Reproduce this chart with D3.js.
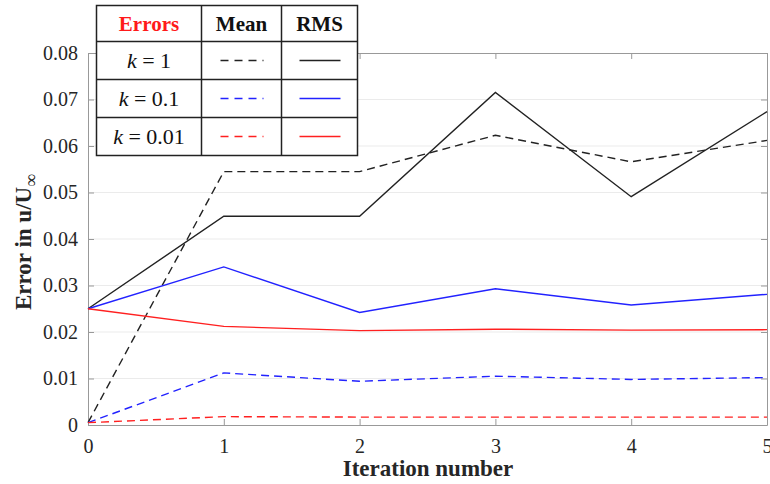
<!DOCTYPE html>
<html lang="en">
<head>
<meta charset="UTF-8">
<title>Error vs iteration</title>
<script src="https://d3js.org/d3.v7.min.js"></script>
<style>
  body { margin: 0; background: #fff; }
  .lbl { font-family: "Liberation Serif", serif; font-weight: bold; fill: #262626; }
</style>
</head>
<body>
<script>
  // iterations and error values
  var iterations = [0, 1, 2, 3, 4, 5];
  var yTicks = [0, 0.01, 0.02, 0.03, 0.04, 0.05, 0.06, 0.07, 0.08];

  var meanK1    = [0.0005, 0.0545, 0.0545, 0.0623, 0.0566, 0.0612];
  var rmsK1     = [0.025, 0.0449, 0.0449, 0.0715, 0.0491, 0.0674];
  var meanK01   = [0.0005, 0.0112, 0.0094, 0.0105, 0.0098, 0.0102];
  var rmsK01    = [0.025, 0.0340, 0.0242, 0.0293, 0.0258, 0.0281];
  var meanK001  = [0.0005, 0.0018, 0.0017, 0.0017, 0.0017, 0.0017];
  var rmsK001   = [0.025, 0.0212, 0.0203, 0.0206, 0.0204, 0.0205];

  var seriesNames = ["k = 1", "k = 0.1", "k = 0.01"];
  var seriesColors = ["#222", "#2222ff", "#ff2020"];
  var meanSeries = [meanK1, meanK01, meanK001];
  var rmsSeries = [rmsK1, rmsK01, rmsK001];

  var W = 770, H = 484;
  var margin = {top: 53, right: 3, bottom: 59, left: 88};
  var width = W - margin.left - margin.right,
      height = H - margin.top - margin.bottom;

  var svg = d3.select("body").append("svg")
      .attr("width", W).attr("height", H);
  var g = svg.append("g")
      .attr("transform", "translate(" + margin.left + "," + margin.top + ")");

  var x = d3.scaleLinear().domain([0, 5]).range([0, width]);
  var y = d3.scaleLinear().domain([0, 0.08]).range([height, 0]);

  // horizontal grid
  g.append("g")
    .selectAll("line").data(yTicks.slice(1, -1)).join("line")
      .attr("x1", 0).attr("x2", width)
      .attr("y1", d => y(d)).attr("y2", d => y(d))
      .attr("stroke", "#ebebeb");

  // axes (box style with ticks on all sides)
  var fmtY = d => d === 0 ? "0" : d3.format(".2f")(d);
  function styleAxis(sel) {
    sel.select(".domain").attr("stroke", "#999");
    sel.selectAll(".tick line").attr("stroke", "#999");
    sel.selectAll(".tick text")
      .attr("font-family", "'Liberation Serif', serif")
      .attr("font-size", 20).attr("fill", "#262626");
  }
  g.append("g")
      .attr("transform", "translate(0," + height + ")")
      .call(d3.axisBottom(x).tickValues(iterations).tickFormat(d3.format("d"))
        .tickSizeInner(-6).tickSizeOuter(0).tickPadding(14))
      .call(styleAxis);
  g.append("g")
      .call(d3.axisTop(x).tickValues(iterations).tickSizeInner(-6).tickSizeOuter(0).tickFormat(""))
      .call(styleAxis);
  g.append("g")
      .call(d3.axisLeft(y).tickValues(yTicks).tickFormat(fmtY)
        .tickSizeInner(-6).tickSizeOuter(0).tickPadding(10))
      .call(styleAxis);
  g.append("g")
      .attr("transform", "translate(" + width + ",0)")
      .call(d3.axisRight(y).tickValues(yTicks).tickSizeInner(-6).tickSizeOuter(0).tickFormat(""))
      .call(styleAxis);

  var line = d3.line().x((d, i) => x(iterations[i])).y(d => y(d));

  meanSeries.forEach(function(s, i) {
    g.append("path").datum(s)
      .attr("fill", "none").attr("stroke", seriesColors[i])
      .attr("stroke-width", 1.4).attr("stroke-dasharray", "8,5")
      .attr("d", line);
  });
  rmsSeries.forEach(function(s, i) {
    g.append("path").datum(s)
      .attr("fill", "none").attr("stroke", seriesColors[i])
      .attr("stroke-width", 1.4)
      .attr("d", line);
  });

  // axis labels
  svg.append("text").attr("class", "lbl")
      .attr("x", 428).attr("y", 476).attr("text-anchor", "middle")
      .attr("font-size", 23).text("Iteration number");

  var yl = svg.append("text").attr("class", "lbl")
      .attr("transform", "translate(31,242) rotate(-90)")
      .attr("text-anchor", "middle").attr("font-size", 23);
  yl.append("tspan").text("Error in u/U");
  yl.append("tspan").attr("dy", 6).attr("font-size", 18).attr("font-weight", "normal").text("∞");

  // legend table
  var tbl = svg.append("g").attr("transform", "translate(96.5,5.5)");
  var colX = [0, 105, 185, 261];
  var rowY = [0, 36, 74, 112, 150];
  tbl.append("rect").attr("width", colX[3]).attr("height", rowY[4])
      .attr("fill", "#fff").attr("stroke", "#222").attr("stroke-width", 1.5);
  colX.slice(1, 3).forEach(c => tbl.append("line")
      .attr("x1", c).attr("x2", c).attr("y1", 0).attr("y2", rowY[4])
      .attr("stroke", "#222").attr("stroke-width", 1.5));
  rowY.slice(1, 4).forEach(r => tbl.append("line")
      .attr("x1", 0).attr("x2", colX[3]).attr("y1", r).attr("y2", r)
      .attr("stroke", "#222").attr("stroke-width", 1.5));

  var heads = ["Errors", "Mean", "RMS"];
  heads.forEach(function(h, i) {
    tbl.append("text").attr("class", "lbl")
      .attr("x", (colX[i] + colX[i + 1]) / 2).attr("y", 25)
      .attr("text-anchor", "middle").attr("font-size", 21)
      .style("fill", i === 0 ? "#ff1a1a" : "#111")
      .text(h);
  });

  seriesNames.forEach(function(name, i) {
    var cy = (rowY[i + 1] + rowY[i + 2]) / 2;
    var t = tbl.append("text")
      .attr("x", (colX[0] + colX[1]) / 2).attr("y", cy + 7)
      .attr("text-anchor", "middle")
      .attr("font-family", "'Liberation Serif', serif").attr("font-size", 22).attr("fill", "#111");
    t.append("tspan").attr("font-style", "italic").text("k");
    t.append("tspan").text(name.slice(1));
    tbl.append("line")
      .attr("x1", 124).attr("x2", 167).attr("y1", cy).attr("y2", cy)
      .attr("stroke", seriesColors[i]).attr("stroke-width", 1.6).attr("stroke-dasharray", "8,6");
    tbl.append("line")
      .attr("x1", 203).attr("x2", 244).attr("y1", cy).attr("y2", cy)
      .attr("stroke", seriesColors[i]).attr("stroke-width", 1.6);
  });
</script>
</body>
</html>
